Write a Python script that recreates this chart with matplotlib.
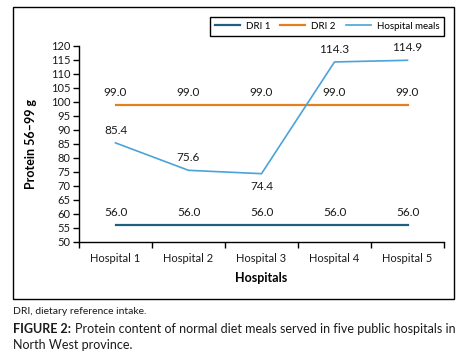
import matplotlib
matplotlib.use('Agg')
import matplotlib.pyplot as plt
import numpy as np
from matplotlib.patches import Rectangle

# ======== Data ========
hospitals = ['Hospital 1', 'Hospital 2', 'Hospital 3', 'Hospital 4', 'Hospital 5']
dri1 = [56.0, 56.0, 56.0, 56.0, 56.0]
dri2 = [99.0, 99.0, 99.0, 99.0, 99.0]
meals = [85.4, 75.6, 74.4, 114.3, 114.9]

# ======== Style ========
plt.rcParams.update({'font.family': ['Lato', 'DejaVu Sans'], 'font.size': 8})
c_dri1, c_dri2, c_meals = '#1F5F82', '#E4801F', '#4AA3D9'
txt = '#1a1a1a'

W, H = 473, 363
fig = plt.figure(figsize=(W / 100, H / 100), dpi=100)
ax = fig.add_axes([79 / W, 1 - 242 / H, (444 - 79) / W, (242 - 46) / H])

x = np.arange(len(hospitals))
ax.plot(x, dri1, color=c_dri1, lw=1.6, label='DRI 1')
ax.plot(x, dri2, color=c_dri2, lw=1.6, label='DRI 2')
ax.plot(x, meals, color=c_meals, lw=1.2, label='Hospital meals')

for xi, v in zip(x, dri1):
    ax.annotate(f'{v:.1f}', (xi, v), xytext=(0, 5), textcoords='offset points',
                ha='center', va='bottom', fontsize=8.5, color=txt)
for xi, v in zip(x, dri2):
    ax.annotate(f'{v:.1f}', (xi, v), xytext=(0, 5), textcoords='offset points',
                ha='center', va='bottom', fontsize=8.5, color=txt)
for i, (xi, v) in enumerate(zip(x, meals)):
    dy = -5 if i == 2 else 5
    ax.annotate(f'{v:.1f}', (xi, v), xytext=(0, dy), textcoords='offset points',
                ha='center', va='top' if dy < 0 else 'bottom', fontsize=8.5, color=txt)

ax.set_xlim(-0.5, len(hospitals) - 0.5)
ax.set_ylim(50, 120)
ax.set_yticks(np.arange(50, 121, 5))
ax.set_xticks(x)
ax.set_xticklabels(hospitals)
ax.set_xticks(np.arange(-0.5, len(hospitals)), minor=True)
ax.tick_params(axis='x', which='major', length=0, pad=8, labelsize=8, labelcolor=txt)
ax.tick_params(axis='x', which='minor', length=4, width=1, direction='out')
ax.tick_params(axis='y', length=4, width=1, pad=2, labelsize=8, labelcolor=txt)
for s in ['top', 'right']:
    ax.spines[s].set_visible(False)
for s in ['left', 'bottom']:
    ax.spines[s].set_linewidth(1)

ax.set_ylabel('Protein 56–99 g', fontweight='bold', fontsize=9, labelpad=10)
ax.set_xlabel('Hospitals', fontweight='bold', fontsize=9, labelpad=6)

fig.legend(loc='upper right', bbox_to_anchor=(449 / W, 1 - 12 / H), ncol=3,
           fancybox=False, edgecolor='black', framealpha=1, fontsize=7,
           handlelength=2.6, columnspacing=1.0, borderpad=0.5, handletextpad=0.6)

# outer chart frame
fig.patches.append(Rectangle((13 / W, 1 - 299 / H), (454 - 13) / W, (299 - 7) / H,
                             transform=fig.transFigure, fill=False, lw=1, edgecolor='black'))

fig.text(13 / W, 1 - 311 / H, 'DRI, dietary reference intake.', fontsize=7.5, va='center', color=txt)
fig.text(13 / W, 1 - 329 / H, 'FIGURE 2:', fontsize=9, fontweight='bold', va='center', color=txt)
fig.text(75 / W, 1 - 329 / H, 'Protein content of normal diet meals served in five public hospitals in',
         fontsize=9, va='center', color=txt)
fig.text(13 / W, 1 - 345 / H, 'North West province.', fontsize=9, va='center', color=txt)

fig.savefig('out.png', dpi=100)
